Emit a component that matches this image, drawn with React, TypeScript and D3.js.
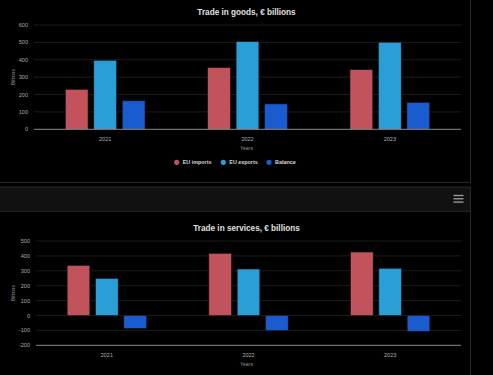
import React from "react";
import * as d3 from "d3";

const categories = ["2021", "2022", "2023"];
const seriesNames = ["EU imports", "EU exports", "Balance"];
const seriesColors = ["#c2525b", "#2a9fd7", "#1b5bd0"];

const goodsImports = [230, 355, 343];
const goodsExports = [397, 505, 501];
const goodsBalance = [164, 146, 155];
const goodsTicks = [0, 100, 200, 300, 400, 500, 600];

const servicesImports = [336, 417, 426];
const servicesExports = [249, 312, 317];
const servicesBalance = [-87, -102, -106];
const servicesTicks = [-200, -100, 0, 100, 200, 300, 400, 500];

const FONT = "'Liberation Sans', Arial, Helvetica, sans-serif";

type PanelProps = {
  title: string;
  titleY: number;
  values: number[][];
  ticks: number[];
  left: number;
  right: number;
  top: number;
  bottom: number;
  legendY?: number;
};

function Panel({ title, titleY, values, ticks, left, right, top, bottom, legendY }: PanelProps) {
  const yMin = d3.min(ticks)!;
  const yMax = d3.max(ticks)!;
  const y = d3.scaleLinear().domain([yMin, yMax]).range([bottom, top]);
  const x0 = d3.scaleBand<string>().domain(categories).range([left, right]).padding(0);
  const bw = x0.bandwidth();
  const x1 = d3
    .scaleBand<string>()
    .domain(seriesNames)
    .range([0.2 * bw, 0.8 * bw])
    .paddingInner(0.2)
    .paddingOuter(0.1);
  const zero = y(0);

  const legendItems = [
    { name: seriesNames[0], cx: 176.7 },
    { name: seriesNames[1], cx: 223.3 },
    { name: seriesNames[2], cx: 269 },
  ];

  return (
    <g>
      <text
        x={246.5}
        y={titleY}
        textAnchor="middle"
        dominantBaseline="central"
        fill="#e0e0e0"
        fontWeight="bold"
        fontSize={8.2}
        fontFamily={FONT}
      >
        {title}
      </text>
      {ticks.map((t) => (
        <g key={t}>
          {t !== yMin && (
            <line x1={left} x2={right} y1={y(t)} y2={y(t)} stroke="#1c1c1c" strokeWidth={1} />
          )}
          <text
            x={left - 6}
            y={y(t)}
            textAnchor="end"
            dominantBaseline="central"
            fill="#a8a8a8"
            fontSize={5.6}
            fontFamily={FONT}
          >
            {t}
          </text>
        </g>
      ))}
      <text
        transform={`translate(${12.5},${(top + bottom) / 2}) rotate(-90)`}
        textAnchor="middle"
        dominantBaseline="central"
        fill="#909090"
        fontSize={5.2}
        fontFamily={FONT}
      >
        Billions
      </text>
      {categories.map((c, ci) =>
        seriesNames.map((s, si) => {
          const v = values[si][ci];
          const bx = x0(c)! + x1(s)!;
          const yt = Math.min(y(v), zero);
          const h = Math.abs(y(v) - zero);
          return (
            <rect
              key={c + s}
              x={bx}
              y={yt}
              width={x1.bandwidth()}
              height={h}
              fill={seriesColors[si]}
              stroke="#111"
              strokeWidth={0.6}
            />
          );
        })
      )}
      <line x1={left} x2={right} y1={bottom} y2={bottom} stroke="#8a8a8a" strokeWidth={1} />
      {categories.map((c) => (
        <text
          key={c}
          x={x0(c)! + bw / 2}
          y={bottom + 10}
          textAnchor="middle"
          dominantBaseline="central"
          fill="#b0b0b0"
          fontSize={5.5}
          fontFamily={FONT}
        >
          {c}
        </text>
      ))}
      <text
        x={246.5}
        y={bottom + 18.2}
        textAnchor="middle"
        dominantBaseline="central"
        fill="#909090"
        fontSize={5.2}
        fontFamily={FONT}
      >
        Years
      </text>
      {legendY !== undefined &&
        legendItems.map((li, i) => (
          <g key={li.name}>
            <circle cx={li.cx} cy={legendY} r={2.6} fill={seriesColors[i]} />
            <text
              x={li.cx + 6}
              y={legendY}
              dominantBaseline="central"
              fill="#d8d8d8"
              fontWeight="bold"
              fontSize={5.4}
              fontFamily={FONT}
            >
              {li.name}
            </text>
          </g>
        ))}
    </g>
  );
}

export default function App() {
  return (
    <svg
      width={493}
      height={375}
      style={{ position: "fixed", left: 0, top: 0, background: "#000", display: "block" }}
    >
      <rect x={0} y={0} width={493} height={375} fill="#000" />
      {/* top card border */}
      <path d="M-1,182.5 H470.5 V-1" fill="none" stroke="#262626" strokeWidth={1} />
      {/* menu band */}
      <rect x={-1} y={187} width={471.5} height={24.3} fill="#111" stroke="#262626" strokeWidth={1} />
      {[195.5, 198.8, 202.1].map((yy) => (
        <line key={yy} x1={453.5} x2={463.5} y1={yy} y2={yy} stroke="#a0a0a0" strokeWidth={1.3} />
      ))}
      {/* bottom card border */}
      <path d="M470.5,211.5 V376" fill="none" stroke="#262626" strokeWidth={1} />

      <Panel
        title="Trade in goods, € billions"
        titleY={12.7}
        values={[goodsImports, goodsExports, goodsBalance]}
        ticks={goodsTicks}
        left={34}
        right={461}
        top={25}
        bottom={129.3}
        legendY={162.3}
      />
      <Panel
        title="Trade in services, € billions"
        titleY={228.3}
        values={[servicesImports, servicesExports, servicesBalance]}
        ticks={servicesTicks}
        left={36}
        right={461}
        top={241}
        bottom={345.3}
      />
    </svg>
  );
}
